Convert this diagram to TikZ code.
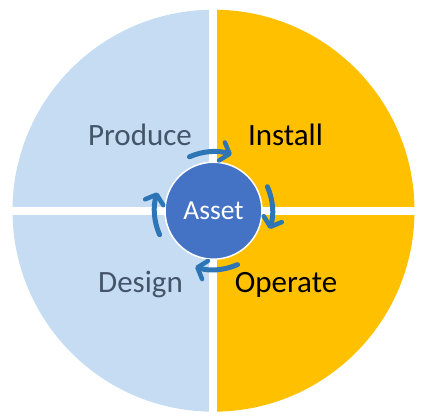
\documentclass[tikz,border=0pt]{standalone}
\usepackage{fontspec}
\setmainfont{Carlito}
\usetikzlibrary{arrows.meta}
\definecolor{qblue}{HTML}{C5DCF3}
\definecolor{qyellow}{HTML}{FFC000}
\definecolor{txtgray}{HTML}{44546A}
\definecolor{assetblue}{HTML}{4472C4}
\definecolor{arrowblue}{HTML}{2E75B6}
\tikzset{
  quadlabel/.style={anchor=base, font=\fontsize{31}{31}\selectfont, inner sep=0pt},
  assetnode/.style={circle, fill=assetblue, draw=white, line width=1.5pt, minimum size=97pt, inner sep=0pt, text=white, font=\fontsize{27.5}{27.5}\selectfont},
  cyclearrow/.style={draw=arrowblue, line width=5pt, line cap=round, -{Straight Barb[length=8pt,width=19pt,line width=4.5pt,round]}}
}
\begin{document}
\begin{tikzpicture}[x=1pt,y=1pt]
\useasboundingbox (-213.5,-208.3) rectangle (210.5,210.7);
% quadrants
\fill[qblue] (0,0) -- (90:201) arc[start angle=90, end angle=270, radius=201] -- cycle;
\fill[qyellow] (0,0) -- (-90:201) arc[start angle=-90, end angle=90, radius=201] -- cycle;
\fill[white] (-4,-205) rectangle (4,205);
\fill[white] (-205,-4) rectangle (205,4);
% labels
\node[quadlabel, text=txtgray] (produce) at (-73.5,64.7) {Produce};
\node[quadlabel, text=black] (install) at (72,64.7) {Install};
\node[quadlabel, text=txtgray] (design) at (-73,-82.3) {Design};
\node[quadlabel, text=black] (operate) at (72.5,-82.3) {Operate};
% center
\node[assetnode] (asset) at (0,0) {Asset};
% cycle arrows
\foreach \c in {90,0,-90,180}{
  \draw[cyclearrow] ([shift={(\c+24:59)}]asset.center) arc[start angle=\c+24, end angle=\c-18, radius=59];
}
\end{tikzpicture}
\end{document}
